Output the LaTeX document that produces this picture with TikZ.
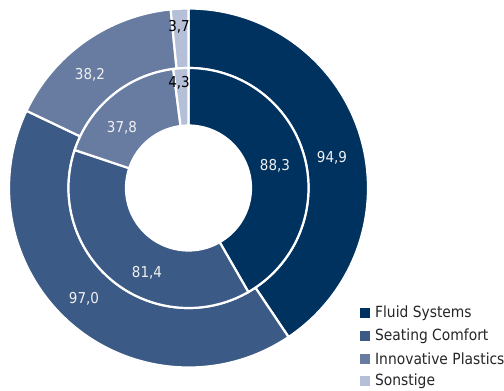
\documentclass[tikz,border=0pt]{standalone}
\usepackage{fontspec}
\setmainfont{DejaVu Sans}[FakeStretch=0.9]
\usetikzlibrary{positioning}
\definecolor{fluidcol}{HTML}{00325F}
\definecolor{seatcol}{HTML}{3B5A85}
\definecolor{plastcol}{HTML}{687CA2}
\definecolor{othercol}{HTML}{B5BFD7}
\tikzset{
  gap/.style={draw=white, line width=2.2pt},
  val/.style={text=white!94!black, font=\fontsize{15}{18}\selectfont, inner sep=0pt},
  valdark/.style={val, text=black},
  key/.style={minimum size=9.5pt, inner sep=0pt},
  keytext/.style={text=black!85, font=\fontsize{15.4}{18}\selectfont, inner sep=0pt, right=5pt}
}
% annular sector: start angle, end angle, inner radius, outer radius, colour
\newcommand{\ringpart}[5]{%
  \path[gap, fill=#5] (#1:#4) arc[start angle=#1, end angle=#2, radius=#4]
    -- (#2:#3) arc[start angle=#2, end angle=#1, radius=#3] -- cycle;}

\begin{document}
\begin{tikzpicture}
    \useasboundingbox (-188.5pt,-203pt) rectangle (315.5pt,188pt);
    % outer ring
    \ringpart{90}{-56.12}{120pt}{179.5pt}{fluidcol}
    \ringpart{-56.12}{-205.48}{120pt}{179.5pt}{seatcol}
    \ringpart{-205.48}{-264.30}{120pt}{179.5pt}{plastcol}
    \ringpart{-264.30}{-270}{120pt}{179.5pt}{othercol}
    % inner ring
    \ringpart{90}{-60.08}{62.5pt}{120pt}{fluidcol}
    \ringpart{-60.08}{-198.44}{62.5pt}{120pt}{seatcol}
    \ringpart{-198.44}{-262.69}{62.5pt}{120pt}{plastcol}
    \ringpart{-262.69}{-270}{62.5pt}{120pt}{othercol}
    % values
    \node[val] (ofluid) at (143.5pt,30pt) {94,9};
    \node[val] (ifluid) at (86.5pt,22pt) {88,3};
    \node[val] (iseat) at (-41.5pt,-85pt) {81,4};
    \node[val] (oseat) at (-104.5pt,-111pt) {97,0};
    \node[val] (oplast) at (-98.5pt,113pt) {38,2};
    \node[val] (iplast) at (-66.5pt,60pt) {37,8};
    \node[valdark] (iother) at (-9.5pt,105pt) {4,3};
    \node[valdark] (oother) at (-9.5pt,161pt) {3,7};
    % legend
    \node[key, fill=fluidcol] (kfluid) at (176.5pt,-125pt) {};
    \node[keytext, right=5pt of kfluid] (tfluid) {Fluid Systems};
    \node[key, fill=seatcol] (kseat) at (176.5pt,-148pt) {};
    \node[keytext, right=5pt of kseat] (tseat) {Seating Comfort};
    \node[key, fill=plastcol] (kplast) at (176.5pt,-171pt) {};
    \node[keytext, right=5pt of kplast] (tplast) {Innovative Plastics};
    \node[key, fill=othercol] (kother) at (176.5pt,-193pt) {};
    \node[keytext, right=5pt of kother] (tother) {Sonstige};
\end{tikzpicture}
\end{document}
